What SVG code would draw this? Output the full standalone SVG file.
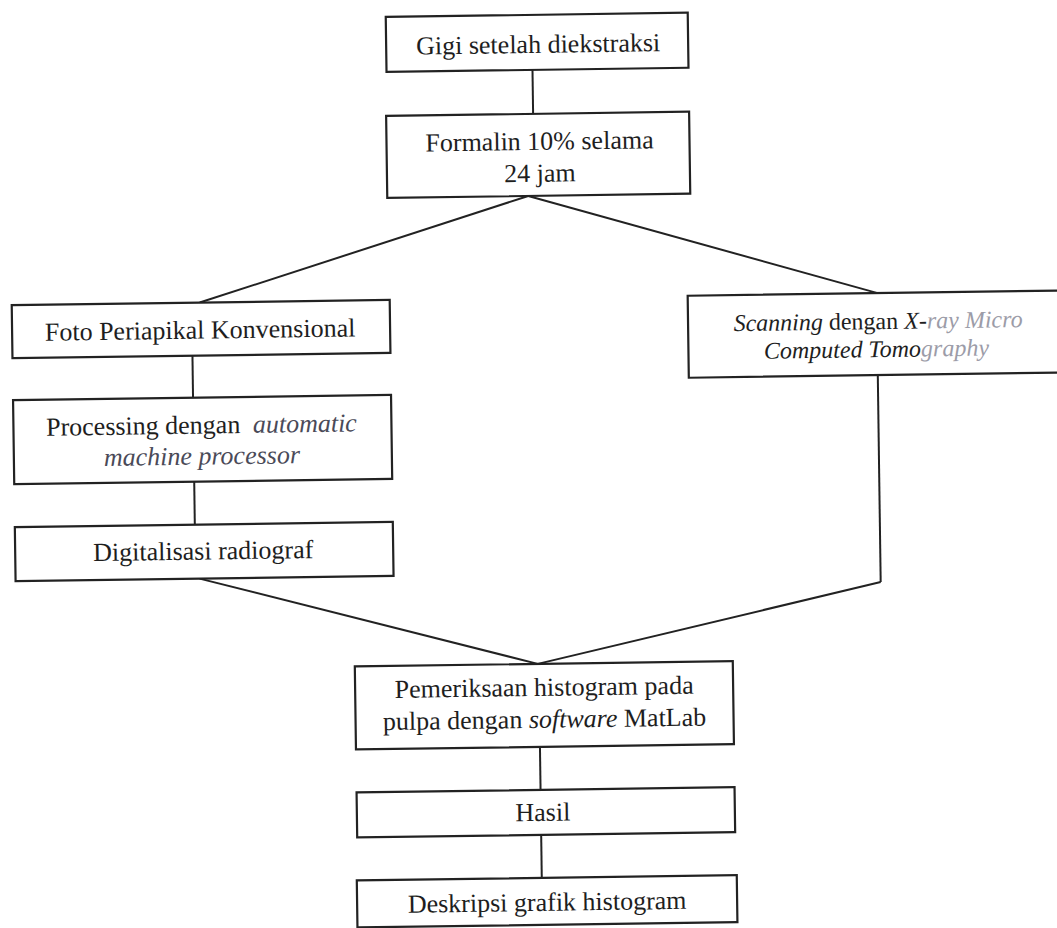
<svg xmlns="http://www.w3.org/2000/svg" width="1057" height="928" viewBox="0 0 1057 928">
<style>
.box{fill:#ffffff;stroke:#222222;stroke-width:2.2}
.con{fill:none;stroke:#222222;stroke-width:2}
.t{font-family:"Liberation Serif","Times New Roman",serif;font-size:26px;fill:#1e1e1e;text-anchor:middle}
.s{font-size:24px}
.i{font-style:italic}
.faint{fill:#9c9ca8}
.soft{fill:#4a4a58}
</style>
<rect x="0" y="0" width="1057" height="928" fill="#ffffff"/>
<g transform="rotate(-0.8 528 464)">
<g id="connectors">
<line class="con" x1="538" y1="70" x2="538" y2="114"/>
<line class="con" x1="532" y1="196" x2="202" y2="298"/>
<line class="con" x1="532" y1="196" x2="880" y2="298"/>
<line class="con" x1="194" y1="351" x2="194" y2="393"/>
<line class="con" x1="194" y1="477" x2="194" y2="520"/>
<line class="con" x1="198" y1="574" x2="535" y2="664"/>
<line class="con" x1="879" y1="380" x2="879" y2="587"/>
<line class="con" x1="879" y1="587" x2="535" y2="664"/>
<line class="con" x1="536" y1="747" x2="536" y2="790"/>
<line class="con" x1="536" y1="835" x2="536" y2="878"/>
</g>
<g id="n1">
<rect class="box" x="392" y="15" width="302" height="55"/>
<text class="t" x="544" y="53">Gigi setelah diekstraksi</text>
</g>
<g id="n2">
<rect class="box" x="391" y="114" width="303" height="82"/>
<text class="t" x="544" y="150">Formalin 10% selama</text>
<text class="t" x="544" y="182">24 jam</text>
</g>
<g id="n3">
<rect class="box" x="14" y="298" width="378" height="53"/>
<text class="t" x="202" y="334">Foto Periapikal Konvensional</text>
</g>
<g id="n4">
<rect class="box" x="14" y="393" width="378" height="84"/>
<text class="t" x="202" y="429">Processing dengan <tspan class="i soft" dx="6">automatic</tspan></text>
<text class="t i soft" x="202" y="460">machine processor</text>
</g>
<g id="n5">
<rect class="box" x="14" y="520" width="378" height="54"/>
<text class="t" x="202" y="555">Digitalisasi radiograf</text>
</g>
<g id="n6">
<rect class="box" x="690" y="298" width="390" height="82"/>
<text class="t s" x="880" y="334"><tspan class="i">Scanning</tspan> dengan <tspan class="i">X-</tspan><tspan class="i faint">ray Micro</tspan></text>
<text class="t s i" x="878" y="362">Computed Tomo<tspan class="faint">graphy</tspan></text>
</g>
<g id="n7">
<rect class="box" x="352" y="664" width="378" height="83"/>
<text class="t" x="541" y="696">Pemeriksaan histogram pada</text>
<text class="t" x="541" y="728">pulpa dengan <tspan class="i">software</tspan> MatLab</text>
</g>
<g id="n8">
<rect class="box" x="352" y="790" width="378" height="45"/>
<text class="t" x="538" y="821">Hasil</text>
</g>
<g id="n9">
<rect class="box" x="351" y="878" width="380" height="47"/>
<text class="t" x="541" y="911">Deskripsi grafik histogram</text>
</g>
</g>
</svg>
